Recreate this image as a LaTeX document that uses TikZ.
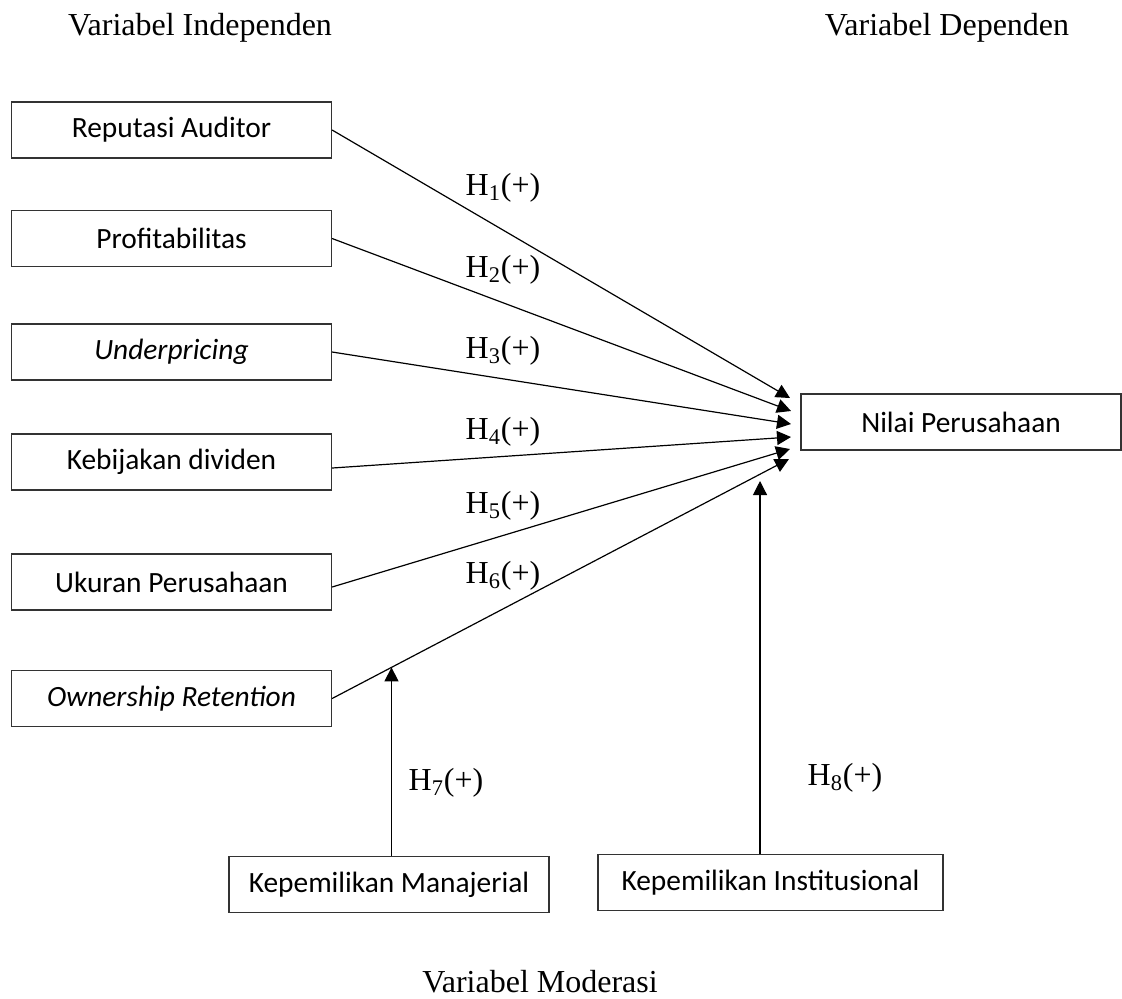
\documentclass[tikz,border=0pt]{standalone}
\usepackage{fontspec}
\setmainfont{Liberation Serif}
\newfontfamily\boxfont{Carlito}
\usetikzlibrary{arrows.meta}

\begin{document}
\begin{tikzpicture}[x=0.5pt,y=-0.5pt]
	\tikzstyle{var}=[draw=black!80,line width=0.6pt,minimum width=160pt,minimum height=28pt,inner sep=0pt,font=\boxfont\fontsize{14.7}{17}\selectfont]
	\tikzstyle{hyp}=[anchor=base,font=\fontsize{16}{19}\selectfont]
	\tikzstyle{arr}=[line width=0.6pt,-{Triangle[length=7pt,width=7pt]}]
	\useasboundingbox (0,0) rectangle (1122,998);

	% group titles
	\node[hyp] (indep) at (200,35) {Variabel Independen};
	\node[hyp] (dep) at (947,35) {Variabel Dependen};
	\node[hyp] (mod) at (540,992) {Variabel Moderasi};

	\node[var] (b1) at (171.5,130) {Reputasi Auditor};
	\node[var] (b2) at (171.5,238.5) {Profitabilitas};
	\node[var] (b3) at (171.5,352) {\textit{Underpricing}};
	\node[var] (b4) at (171.5,462) {Kebijakan dividen};
	\node[var] (b5) at (171.5,582) {Ukuran Perusahaan};
	\node[var] (b6) at (171.5,698.5) {\textit{Ownership Retention}};

	\node[var] (nilai) at (961,422) {Nilai Perusahaan};
	\node[var] (man) at (389,884.5) {Kepemilikan Manajerial};
	\node[var,minimum width=172.5pt] (inst) at (770.5,882.5) {Kepemilikan Institusional};

	% arrow tips in front of Nilai Perusahaan
	\coordinate (t1) at (790,398);
	\coordinate (t2) at (791,411);
	\coordinate (t3) at (791,424);
	\coordinate (t4) at (791,437);
	\coordinate (t5) at (790,449);
	\coordinate (t6) at (789,459);
	\coordinate (t8) at (760,481);

	\draw[arr] (b1.east) -- (t1);
	\draw[arr] (b2.east) -- (t2);
	\draw[arr] (b3.east) -- (t3);
	\draw[arr] ([yshift=-3pt]b4.east) -- (t4);
	\draw[arr] ([yshift=-2.5pt]b5.east) -- (t5);
	\draw[arr] (b6.east) -- (t6);
	\path (b6.east) -- (t6) coordinate[pos=0.13] (m7);

	\draw[arr] (man.north -| m7) -- (m7);
	\draw[arr] (inst.north -| t8) -- (t8);

	\foreach \i/\y in {1/195,2/277,3/358,4/439,5/513,6/583}
		\node[hyp] (h\i) at (503,\y) {H\textsubscript{\i}(+)};
	\node[hyp] (h7) at (446,790) {H\textsubscript{7}(+)};
	\node[hyp] (h8) at (845,785) {H\textsubscript{8}(+)};
\end{tikzpicture}
\end{document}
